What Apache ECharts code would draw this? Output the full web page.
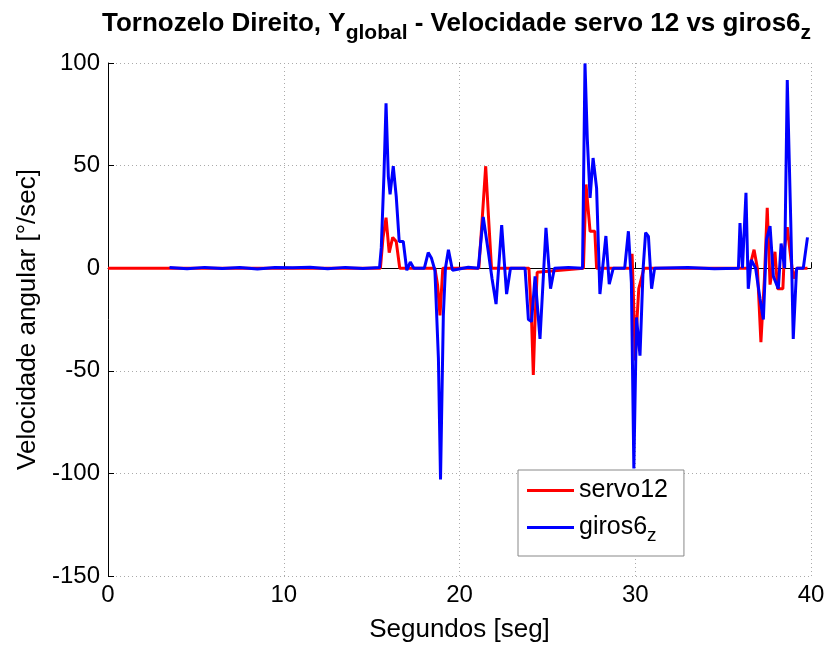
<!DOCTYPE html>
<html>
<head>
<meta charset="utf-8">
<script src="https://cdn.jsdelivr.net/npm/echarts@6/dist/echarts.min.js"></script>
<style>html,body{margin:0;padding:0;background:#fff}#c{width:829px;height:648px}</style>
</head>
<body>
<div id="c"></div>
<script>
var xTicks = [0, 10, 20, 30, 40];
var yTicks = [-150, -100, -50, 0, 50, 100];

var servoT = [0, 15.5, 15.65, 15.82, 16.0, 16.2, 16.4, 16.6, 18.6, 18.75, 18.89, 19.05, 21.1, 21.3, 21.49, 21.65, 21.82, 23.95, 24.1, 24.2, 24.3, 24.42, 27.05, 27.2, 27.43, 27.7, 27.8, 29.75, 29.82, 29.9, 30.0, 30.1, 30.2, 30.35, 30.5, 36.1, 36.5, 36.76, 36.95, 37.15, 37.35, 37.51, 37.67, 37.95, 38.1, 38.25, 38.4, 38.5, 38.65, 38.85, 39.0, 39.2, 39.8];
var servoV = [0, 0, 15, 24.6, 7.6, 15, 13, 0, 0, -8, -23, 0, 0, 25, 49.7, 25, 0, 0, -25, -52, -25, -2, 0, 40.8, 18, 18, 0, 0, 7, -15, -45, -25, -10, -5, 0, 0, 0, 9, 0, -36, -5, 29.4, -8, 8, -10, -10, -10, 10, 20, 5, -5, 0, 0];

var girosT = [3.5, 4.5, 5.5, 6.5, 7.5, 8.5, 9.5, 10.5, 11.5, 12.5, 13.5, 14.5, 15.45, 15.55, 15.7, 15.82, 15.95, 16.05, 16.23, 16.4, 16.57, 16.8, 17.0, 17.2, 17.4, 18.0, 18.22, 18.4, 18.6, 18.8, 18.92, 19.08, 19.2, 19.37, 19.6, 20.5, 21.07, 21.35, 21.64, 21.85, 22.08, 22.4, 22.68, 22.9, 23.73, 23.92, 24.1, 24.3, 24.58, 24.92, 25.18, 25.4, 26.2, 27.0, 27.14, 27.27, 27.43, 27.6, 27.8, 27.99, 28.33, 28.52, 28.75, 29.4, 29.61, 29.78, 29.92, 30.07, 30.27, 30.45, 30.59, 30.75, 30.93, 31.1, 33.0, 34.5, 35.87, 35.96, 36.1, 36.3, 36.43, 36.6, 36.85, 37.1, 37.29, 37.47, 37.67, 37.86, 38.14, 38.3, 38.5, 38.65, 38.85, 38.99, 39.18, 39.56, 39.8];
var girosV = [0.3, -0.3, 0.4, -0.2, 0.3, -0.4, 0.3, 0.2, 0.5, -0.3, 0.4, -0.2, 0.3, 10, 45, 80.4, 44.8, 36, 49.7, 35, 13, 13, -1, 3, 0, 0, 7.6, 5, -1, -44, -103, -23, 0, 9, -1, 0.5, 0, 25, 8, -5, -17.5, 21, -12.6, 0, 0, -25, -26, -4, -34.5, 19.7, -10, 0, 0.4, 0, 99.8, 63.4, 34.3, 53.7, 39, -12.6, 15.7, -7.8, 0, 0, 18, -7, -97.6, -24, -42.6, 0, 17.3, 15.5, -10, 0, 0.3, -0.3, 0, 22, 0, 36.7, -10, 4, 0, -15, -25, 14, 20.5, -4, -10, 12, 0, 91.7, 22, -34.5, 0, 0, 15];

function pairs(t, v) { return t.map(function (x, i) { return [x, v[i]]; }); }

var FONT = '"Liberation Sans", Arial, sans-serif';
var chart = echarts.init(document.getElementById('c'));
chart.setOption({
  animation: false,
  backgroundColor: '#fff',
  title: {
    text: '{a|Tornozelo Direito, Y}{s|global}{a| - Velocidade servo 12 vs giros6}{s|z}',
    left: 97, top: -2,
    textStyle: {
      rich: {
        a: { fontFamily: FONT, fontWeight: 'bold', fontSize: 26, color: '#000' },
        s: { fontFamily: FONT, fontWeight: 'bold', fontSize: 21, color: '#000', padding: [20, 0, 0, 0] }
      }
    }
  },
  grid: { left: 108, right: 18, top: 63, bottom: 70 },
  legend: {
    orient: 'vertical', left: 518, top: 470,
    backgroundColor: '#fff', borderColor: '#888', borderWidth: 1,
    padding: [8, 16, 11, 9], itemGap: 12,
    icon: 'rect', itemWidth: 47, itemHeight: 3,
    textStyle: { fontFamily: FONT, fontSize: 25, color: '#000',
      rich: { n: { fontFamily: FONT, fontSize: 25, color: '#000', lineHeight: 28 },
              s: { fontFamily: FONT, fontSize: 19, color: '#000', padding: [16, 0, 0, 0] } } },
    formatter: function (name) {
      return name === 'giros6z' ? '{n|giros6}{s|z}' : '{n|' + name + '}';
    },
    data: ['servo12', 'giros6z']
  },
  xAxis: {
    type: 'value', min: xTicks[0], max: xTicks[xTicks.length - 1], interval: 10,
    name: 'Segundos [seg]', nameLocation: 'middle', nameGap: 41,
    nameTextStyle: { fontFamily: FONT, fontSize: 26, color: '#000' },
    axisLine: { lineStyle: { color: '#000', width: 1 } },
    axisTick: { inside: true, length: 6, lineStyle: { color: '#000' } },
    axisLabel: { fontFamily: FONT, fontSize: 24, color: '#000', margin: 7 },
    splitLine: { show: true, lineStyle: { type: [1, 3], color: '#aaa', width: 1 } }
  },
  yAxis: {
    type: 'value', min: yTicks[0], max: yTicks[yTicks.length - 1], interval: 50,
    name: 'Velocidade angular [°/sec]', nameLocation: 'middle', nameGap: 60,
    nameTextStyle: { fontFamily: FONT, fontSize: 26, color: '#000' },
    axisLine: { show: true, onZero: false, lineStyle: { color: '#000', width: 1 } },
    axisTick: { show: true, inside: true, length: 6, lineStyle: { color: '#000' } },
    axisLabel: { fontFamily: FONT, fontSize: 24, color: '#000', margin: 8 },
    splitLine: { show: true, lineStyle: { type: [1, 3], color: '#aaa', width: 1 } }
  },
  series: [
    { name: 'servo12', type: 'line', data: pairs(servoT, servoV), showSymbol: false,
      lineStyle: { color: '#ff0000', width: 3 }, itemStyle: { color: '#ff0000' }, z: 2 },
    { name: 'giros6z', type: 'line', data: pairs(girosT, girosV), showSymbol: false,
      lineStyle: { color: '#0000ff', width: 3 }, itemStyle: { color: '#0000ff' }, z: 3 }
  ]
});
</script>
</body>
</html>
